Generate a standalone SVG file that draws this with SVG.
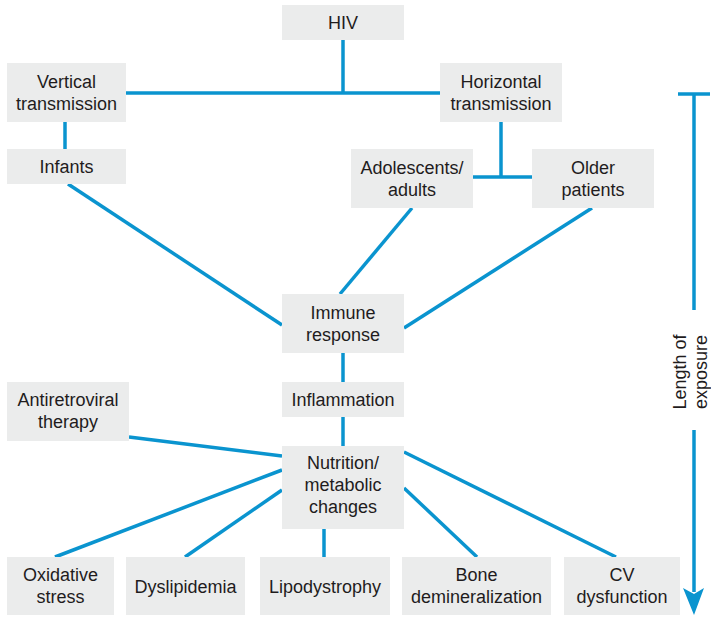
<svg xmlns="http://www.w3.org/2000/svg" width="711" height="618" viewBox="0 0 711 618">
<style>
.box{fill:#ebecec}
.t{font-family:"Liberation Sans",Arial,sans-serif;font-size:18px;fill:#1f1c1d;text-anchor:middle}
.c{stroke:#0a94cf;stroke-width:3.5;fill:none}
</style>
<rect width="711" height="618" fill="#fff"/>
<g id="connectors" class="c">
<line x1="343" y1="40" x2="343" y2="93"/>
<line x1="126" y1="93" x2="440" y2="93"/>
<line x1="65" y1="122" x2="65" y2="149"/>
<line x1="501" y1="122" x2="501" y2="177"/>
<line x1="473" y1="177" x2="532" y2="177"/>
<line x1="68" y1="184" x2="282" y2="325"/>
<line x1="412" y1="208" x2="340" y2="294"/>
<line x1="592" y1="208" x2="404" y2="328"/>
<line x1="343" y1="353" x2="343" y2="382"/>
<line x1="343" y1="417" x2="343" y2="446"/>
<line x1="129" y1="437" x2="282" y2="456"/>
<line x1="282" y1="470" x2="55" y2="557"/>
<line x1="282" y1="490" x2="185" y2="557"/>
<line x1="324" y1="529" x2="324" y2="557"/>
<line x1="404" y1="488" x2="477" y2="557"/>
<line x1="404" y1="452" x2="616" y2="557"/>
</g>
<g id="exposure">
<g class="c">
<line x1="694" y1="94" x2="694" y2="310"/>
<line x1="678" y1="94" x2="710" y2="94"/>
<line x1="694" y1="430" x2="694" y2="592"/>
</g>
<polygon points="683,588 694,594 704,588 694,615" fill="#0a94cf"/>
<text class="t" transform="translate(686,372) rotate(-90)">Length of</text>
<text class="t" transform="translate(707,372) rotate(-90)">exposure</text>
</g>
<g id="hiv"><rect class="box" x="282" y="5" width="122" height="35"/><text class="t" x="343" y="29">HIV</text></g>
<g id="vertical"><rect class="box" x="7" y="63" width="119" height="59"/><text class="t" x="66.5" y="87.5">Vertical</text><text class="t" x="66.5" y="109.5">transmission</text></g>
<g id="horizontal"><rect class="box" x="440" y="63" width="122" height="59"/><text class="t" x="501" y="87.5">Horizontal</text><text class="t" x="501" y="109.5">transmission</text></g>
<g id="infants"><rect class="box" x="7" y="149" width="119" height="35"/><text class="t" x="66.5" y="173">Infants</text></g>
<g id="adolescents"><rect class="box" x="351" y="149" width="122" height="59"/><text class="t" x="412" y="173.5">Adolescents/</text><text class="t" x="412" y="195.5">adults</text></g>
<g id="older"><rect class="box" x="532" y="149" width="122" height="59"/><text class="t" x="593" y="173.5">Older</text><text class="t" x="593" y="195.5">patients</text></g>
<g id="immune"><rect class="box" x="282" y="294" width="122" height="59"/><text class="t" x="343" y="318.5">Immune</text><text class="t" x="343" y="340.5">response</text></g>
<g id="art"><rect class="box" x="7" y="382" width="122" height="59"/><text class="t" x="68" y="406">Antiretroviral</text><text class="t" x="68" y="428">therapy</text></g>
<g id="inflammation"><rect class="box" x="282" y="382" width="122" height="35"/><text class="t" x="343" y="406">Inflammation</text></g>
<g id="nutrition"><rect class="box" x="282" y="446" width="122" height="83"/><text class="t" x="343" y="469">Nutrition/</text><text class="t" x="343" y="491">metabolic</text><text class="t" x="343" y="513">changes</text></g>
<g id="oxidative"><rect class="box" x="7" y="557" width="107" height="58"/><text class="t" x="60.5" y="581">Oxidative</text><text class="t" x="60.5" y="603">stress</text></g>
<g id="dyslipidemia"><rect class="box" x="126" y="557" width="119" height="58"/><text class="t" x="185.5" y="593">Dyslipidemia</text></g>
<g id="lipodystrophy"><rect class="box" x="260" y="557" width="130" height="58"/><text class="t" x="325" y="593">Lipodystrophy</text></g>
<g id="bone"><rect class="box" x="402" y="557" width="149" height="58"/><text class="t" x="476.5" y="581">Bone</text><text class="t" x="476.5" y="603">demineralization</text></g>
<g id="cv"><rect class="box" x="564" y="557" width="116" height="58"/><text class="t" x="622" y="581">CV</text><text class="t" x="622" y="603">dysfunction</text></g>
</svg>
